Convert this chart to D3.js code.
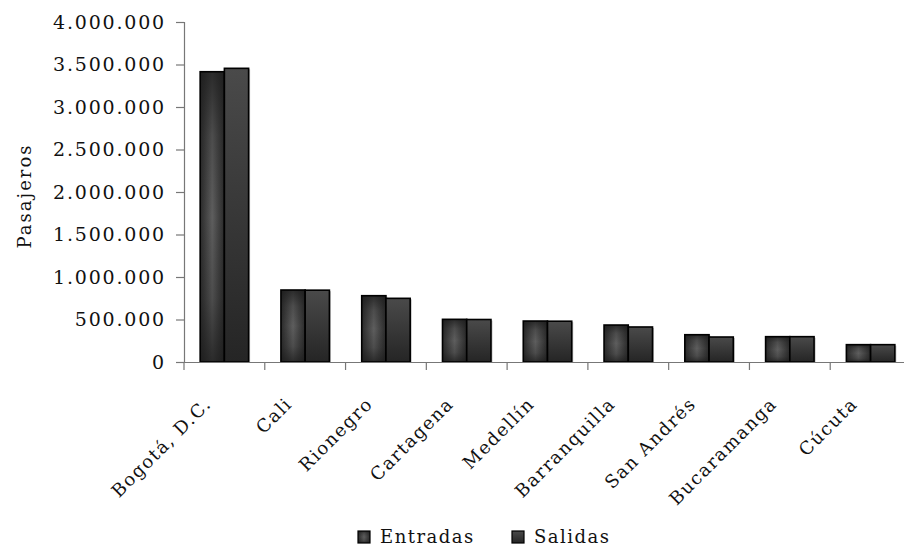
<!DOCTYPE html>
<html>
<head>
<meta charset="utf-8">
<script src="https://cdn.jsdelivr.net/npm/d3@7"></script>
<style>
  html, body { margin: 0; padding: 0; background: #fff; }
  svg { display: block; }
  text { font-family: "DejaVu Serif", serif; fill: #111; }
</style>
</head>
<body>
<svg id="chart" width="904" height="548"></svg>
<script>
const categories = ["Bogotá, D.C.", "Cali", "Rionegro", "Cartagena", "Medellín", "Barranquilla", "San Andrés", "Bucaramanga", "Cúcuta"];
const seriesNames = ["Entradas", "Salidas"];
const entradas = [3415000, 847000, 780000, 502000, 482000, 435000, 321000, 298000, 204000];
const salidas  = [3455000, 845000, 749000, 500000, 480000, 412000, 294000, 298000, 204000];
const yTicks = [0, 500000, 1000000, 1500000, 2000000, 2500000, 3000000, 3500000, 4000000];
const yTitle = "Pasajeros";

(function () {
const svg = d3.select("#chart");
const mLeft = 184, mRight = 911, mTop = 22, mBottom = 362;

const defs = svg.append("defs");
const gE = defs.append("linearGradient").attr("id", "gE").attr("x1", "0").attr("x2", "1").attr("y1", "0").attr("y2", "0");
gE.append("stop").attr("offset", "0").attr("stop-color", "#2a2a2a");
gE.append("stop").attr("offset", "0.5").attr("stop-color", "#5e5e5e");
gE.append("stop").attr("offset", "1").attr("stop-color", "#2a2a2a");
const gEv = defs.append("linearGradient").attr("id", "gEv").attr("x1", "0").attr("x2", "0").attr("y1", "0").attr("y2", "1");
gEv.append("stop").attr("offset", "0").attr("stop-color", "#1a1a1a").attr("stop-opacity", "0.75");
gEv.append("stop").attr("offset", "0.22").attr("stop-color", "#1a1a1a").attr("stop-opacity", "0.25");
gEv.append("stop").attr("offset", "0.5").attr("stop-color", "#1a1a1a").attr("stop-opacity", "0");
gEv.append("stop").attr("offset", "0.78").attr("stop-color", "#1a1a1a").attr("stop-opacity", "0.25");
gEv.append("stop").attr("offset", "1").attr("stop-color", "#1a1a1a").attr("stop-opacity", "0.75");
const gS = defs.append("linearGradient").attr("id", "gS").attr("x1", "0").attr("x2", "0").attr("y1", "0").attr("y2", "1");
gS.append("stop").attr("offset", "0").attr("stop-color", "#4a4a4a");
gS.append("stop").attr("offset", "1").attr("stop-color", "#252525");

const x = d3.scaleBand().domain(categories).range([mLeft, mRight]).paddingInner(0.4).paddingOuter(0.2);
const x1 = d3.scaleBand().domain(seriesNames).range([0, x.bandwidth()]);
const y = d3.scaleLinear().domain([0, 4000000]).range([mBottom, mTop]);

const fmt = v => d3.format(",")(v).replace(/,/g, ".");

const yAxis = svg.append("g").attr("transform", `translate(${mLeft},0)`)
  .call(d3.axisLeft(y).tickValues(yTicks).tickSize(8).tickPadding(10).tickFormat(fmt));
yAxis.select(".domain").attr("stroke", "#777").attr("stroke-width", 1.2);
yAxis.selectAll(".tick line").attr("stroke", "#777").attr("stroke-width", 1.2);
yAxis.selectAll(".tick text").style("font-family", "DejaVu Serif").style("font-size", "19px")
  .style("letter-spacing", "1.8px").attr("fill", "#111");

svg.append("text").attr("transform", "translate(31,196) rotate(-90)").attr("text-anchor", "middle")
  .style("font-size", "18px").style("letter-spacing", "2px").text(yTitle);

const data = categories.map((c, i) => ({ c, vals: [entradas[i], salidas[i]] }));
const groups = svg.append("g").selectAll("g").data(data).join("g")
  .attr("transform", d => `translate(${x(d.c)},0)`);
groups.each(function(d) {
  const g = d3.select(this);
  d.vals.forEach((v, k) => {
    const bx = x1(seriesNames[k]), by = y(v), bw = x1.bandwidth(), bh = y(0) - y(v);
    g.append("rect").attr("x", bx + 1.5).attr("y", by + 1).attr("width", bw).attr("height", bh)
      .attr("fill", "#bbb");
    if (k === 0) {
      g.append("rect").attr("x", bx).attr("y", by).attr("width", bw).attr("height", bh).attr("fill", "url(#gE)");
      g.append("rect").attr("x", bx).attr("y", by).attr("width", bw).attr("height", bh).attr("fill", "url(#gEv)");
    } else {
      g.append("rect").attr("x", bx).attr("y", by).attr("width", bw).attr("height", bh).attr("fill", "url(#gS)");
    }
    g.append("rect").attr("x", bx).attr("y", by).attr("width", bw).attr("height", bh)
      .attr("fill", "none").attr("stroke", "#000").attr("stroke-width", 1.6);
  });
});

const xAxis = svg.append("g").attr("transform", `translate(0,${mBottom})`)
  .call(d3.axisBottom(x).tickSize(0).tickPadding(0));
xAxis.select(".domain").attr("stroke", "#777").attr("stroke-width", 1.2);
xAxis.selectAll(".tick text")
  .style("font-family", "DejaVu Serif").style("font-size", "18px").style("letter-spacing", "1.5px")
  .attr("fill", "#111").attr("text-anchor", "end").attr("y", 0).attr("dy", 0)
  .attr("transform", "translate(-12,43) rotate(-45)");
const bounds = d3.range(categories.length + 1).map(i => mLeft + i * x.step());
svg.append("g").selectAll("line").data(bounds).join("line")
  .attr("x1", d => d).attr("x2", d => d).attr("y1", mBottom).attr("y2", mBottom + 8)
  .attr("stroke", "#777").attr("stroke-width", 1.2);

const legendItems = [
  { name: seriesNames[0], fill: "url(#gE)", overlay: true, sx: 358 },
  { name: seriesNames[1], fill: "url(#gS)", overlay: false, sx: 512 }
];
const lg = svg.append("g");
legendItems.forEach(it => {
  lg.append("rect").attr("x", it.sx).attr("y", 531).attr("width", 12).attr("height", 12).attr("fill", it.fill);
  if (it.overlay) lg.append("rect").attr("x", it.sx).attr("y", 531).attr("width", 12).attr("height", 12).attr("fill", "url(#gEv)");
  lg.append("rect").attr("x", it.sx).attr("y", 531).attr("width", 12).attr("height", 12)
    .attr("fill", "none").attr("stroke", "#000").attr("stroke-width", 1.2);
  lg.append("text").attr("x", it.sx + 22).attr("y", 543).style("font-size", "18px").style("letter-spacing", "1.5px")
    .text(it.name);
});
})();
</script>
</body>
</html>
